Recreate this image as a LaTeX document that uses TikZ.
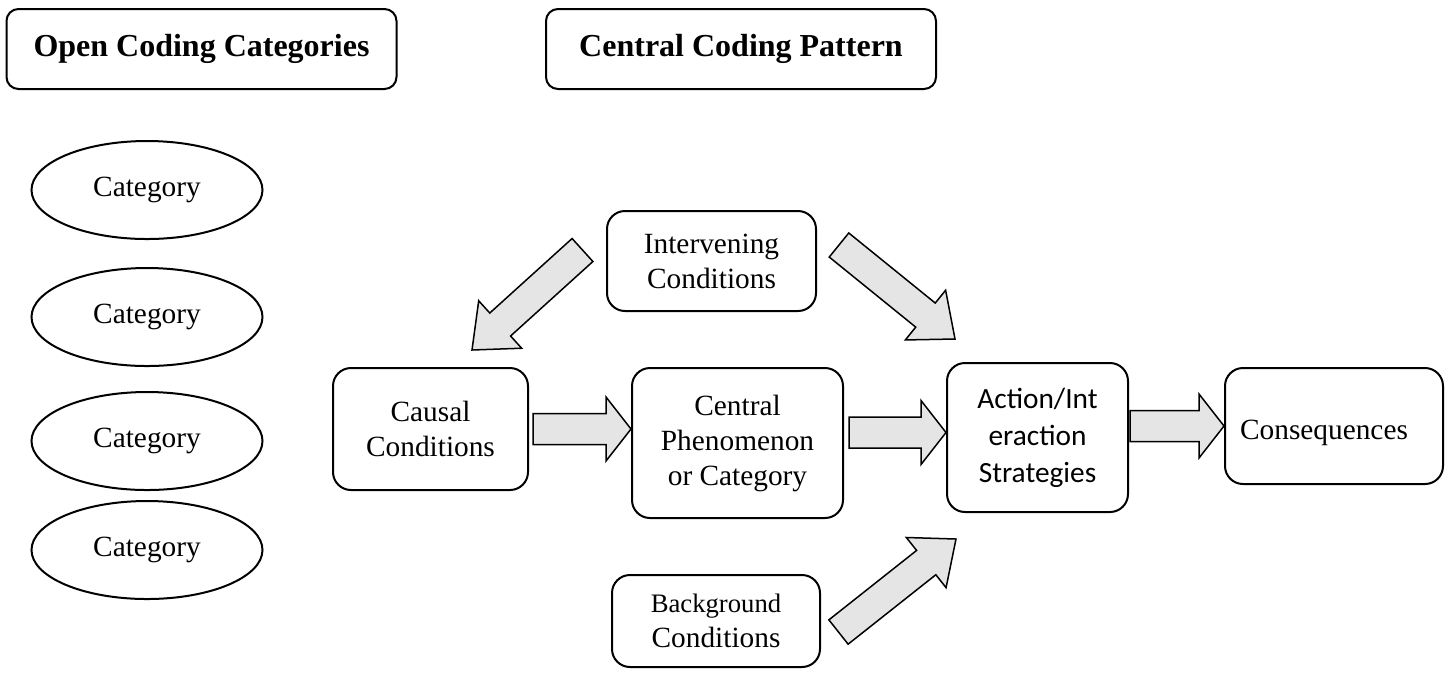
\documentclass[tikz,border=0pt]{standalone}
\usepackage{fontspec}
\setmainfont{Liberation Serif}
\newfontfamily\calibri{Carlito}
\usetikzlibrary{shapes.geometric,calc}
\colorlet{arrowfill}{black!10}
\newcommand\txt{\fontsize{14.67}{17.5}\selectfont}
\newcommand\smalltxt{\fontsize{13.33}{17.5}\selectfont}
\newcommand\bigtxt{\bfseries\fontsize{16}{19}\selectfont}
% block arrow from #2 to #3, #1 = head length
\newcommand\blockarrow[3][12.5pt]{%
  \coordinate (ba-s) at #2;
  \coordinate (ba-e) at #3;
  \coordinate (ba-h) at ($(ba-e)!#1!(ba-s)$);
  \draw[blockarr] ($(ba-s)!7.75pt!90:(ba-e)$) -- ($(ba-h)!7.75pt!90:(ba-e)$)
    -- ($(ba-h)!16pt!90:(ba-e)$) -- (ba-e) -- ($(ba-h)!16pt!-90:(ba-e)$)
    -- ($(ba-h)!7.75pt!-90:(ba-e)$) -- ($(ba-s)!7.75pt!-90:(ba-e)$) -- cycle;}
\tikzstyle{heading}=[draw,line width=1pt,rounded corners=6pt,minimum width=195pt,minimum height=40pt,font=\bigtxt]
\tikzstyle{cat}=[draw,ellipse,line width=1pt,minimum width=115.5pt,minimum height=49pt,font=\txt]
\tikzstyle{stage}=[draw,line width=1pt,rounded corners=9pt,align=center,font=\txt]
\tikzstyle{blockarr}=[draw,line width=.75pt,fill=arrowfill,line join=miter]
\begin{document}
\begin{tikzpicture}[x=0.5pt,y=-0.5pt]
	\useasboundingbox (0,0) rectangle (1451,677);
	\node[heading] (opencod) at (201.5,49) {Open Coding Categories};
	\node[heading] (centcod) at (741,49) {Central Coding Pattern};
	\foreach \cy [count=\i] in {190,317,441,550}
	  \node[cat] (cat\i) at (147,\cy) {Category};
	\node[stage,minimum width=97.5pt,minimum height=61pt] (cause) at (430.5,429) {Causal\\Conditions};
	\node[stage,minimum width=105.5pt,minimum height=75pt] (central) at (737.5,443) {Central\\Phenomenon\\or Category};
	\node[stage,minimum width=90.5pt,minimum height=74.5pt,font=\calibri\fontsize{14.67}{18.5}\selectfont] (action) at (1037.5,437.5) {Action/Int\\eraction\\Strategies};
	\node[stage,minimum width=109pt,minimum height=58pt,text height=17pt,text depth=3.2pt] (conseq) at (1334,426) {Consequences\kern10pt};
	\node[stage,minimum width=104.5pt,minimum height=50pt] (interv) at (711.5,261) {Intervening\\Conditions};
	\node[stage,minimum width=104pt,minimum height=46pt] (backgr) at (716,621) {{\smalltxt Background}\\Conditions};
	\blockarrow{([xshift=2pt]cause.east)}{(ba-s -| central.west)}
	\blockarrow{([xshift=2.5pt,yshift=5.25pt]central.east)}{(ba-s -| action.west)}
	\blockarrow{([xshift=.5pt]action.east |- conseq.west)}{(conseq.west)}
	\blockarrow[19pt]{([shift={(-23.5,-11)}]interv.west)}{([shift={(41.5,-17)}]cause.north)}
	\blockarrow[19pt]{([shift={(22,-16)}]interv.east)}{([shift={(-82.5,-23)}]action.north)}
	\blockarrow[19pt]{([shift={(17.5,11)}]backgr.east)}{([shift={(-81.5,26)}]action.south)}
\end{tikzpicture}
\end{document}
